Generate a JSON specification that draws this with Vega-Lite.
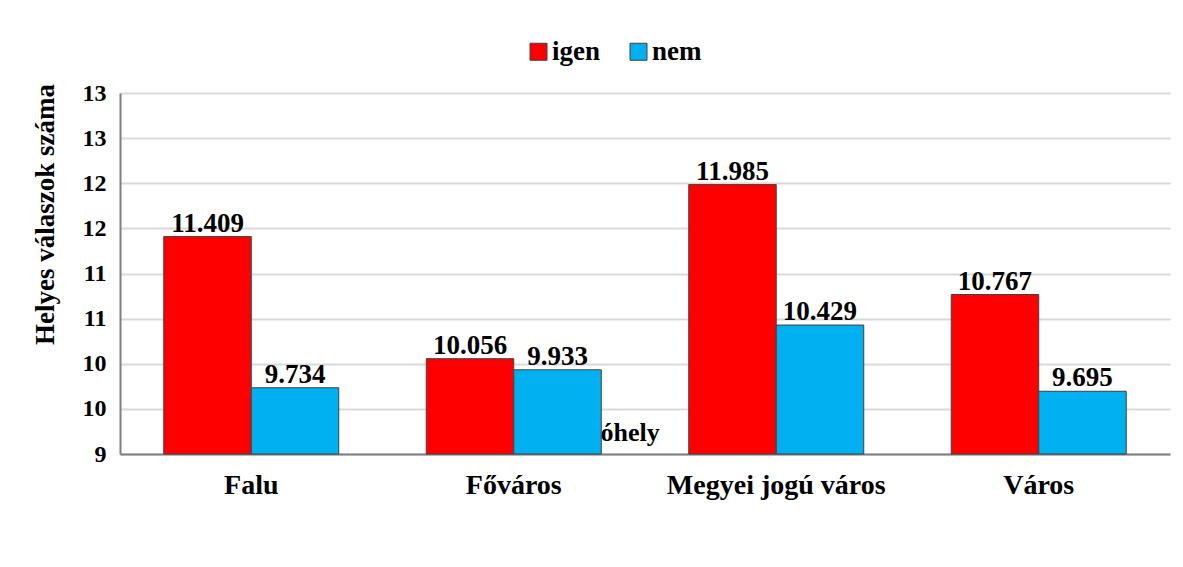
{
  "$schema": "https://vega.github.io/schema/vega-lite/v6.json",
  "width": 1050,
  "height": 361,
  "autosize": {"type": "none"},
  "padding": {"left": 120, "top": 93, "right": 13, "bottom": 113},
  "background": "white",
  "config": {
    "font": "'Liberation Serif', 'Times New Roman', serif",
    "view": {"stroke": null},
    "axis": {"labelFont": "'Liberation Serif', 'Times New Roman', serif", "titleFont": "'Liberation Serif', 'Times New Roman', serif", "labelColor": "#000", "titleColor": "#000"},
    "legend": {"labelFont": "'Liberation Serif', 'Times New Roman', serif"},
    "text": {"font": "'Liberation Serif', 'Times New Roman', serif"}
  },
  "data": {
    "values": [
      {"telepules": "Falu", "valasz": "igen", "ertek": 11.409},
      {"telepules": "Falu", "valasz": "nem", "ertek": 9.734},
      {"telepules": "Főváros", "valasz": "igen", "ertek": 10.056},
      {"telepules": "Főváros", "valasz": "nem", "ertek": 9.933},
      {"telepules": "Megyei jogú város", "valasz": "igen", "ertek": 11.985},
      {"telepules": "Megyei jogú város", "valasz": "nem", "ertek": 10.429},
      {"telepules": "Város", "valasz": "igen", "ertek": 10.767},
      {"telepules": "Város", "valasz": "nem", "ertek": 9.695}
    ]
  },
  "encoding": {
    "x": {
      "field": "telepules",
      "type": "nominal",
      "sort": ["Falu", "Főváros", "Megyei jogú város", "Város"],
      "scale": {"paddingInner": 0.3333, "paddingOuter": 0.1667},
      "axis": {
        "title": null,
        "labelAngle": 0,
        "labelFontSize": 28,
        "labelFontWeight": "bold",
        "labelPadding": 17,
        "labelLimit": 0,
        "ticks": false,
        "domainColor": "#7f7f7f",
        "domainWidth": 2,
        "grid": false
      }
    }
  },
  "layer": [
    {
      "data": {"values": [{"telepules": "Főváros", "felirat": "Lakóhely", "y": 9}]},
      "mark": {"type": "text", "align": "right", "baseline": "alphabetic", "dx": 146, "dy": -13, "fontSize": 26, "fontWeight": "bold", "color": "#000"},
      "encoding": {
        "x": {"field": "telepules", "type": "nominal"},
        "y": {"field": "y", "type": "quantitative"},
        "text": {"field": "felirat"}
      }
    },
    {
      "mark": {"type": "bar", "stroke": "#404040", "strokeWidth": 1},
      "encoding": {
        "xOffset": {"field": "valasz", "type": "nominal", "sort": ["igen", "nem"]},
        "y": {
          "field": "ertek",
          "type": "quantitative",
          "scale": {"domain": [9, 13], "zero": false, "nice": false},
          "axis": {
            "title": "Helyes válaszok száma",
            "titleFontSize": 27,
            "titleFontWeight": "bold",
            "titleAngle": 270,
            "titleAlign": "center",
            "titleBaseline": "alphabetic",
            "titleX": -67,
            "titleY": 121,
            "values": [9, 9.5, 10, 10.5, 11, 11.5, 12, 12.5, 13],
            "format": ".0f",
            "labelFontSize": 24,
            "labelFontWeight": "bold",
            "labelPadding": 14,
            "ticks": false,
            "domainColor": "#7f7f7f",
            "domainWidth": 2,
            "gridColor": "#d9d9d9",
            "gridWidth": 2
          }
        },
        "y2": {"datum": 9},
        "color": {
          "field": "valasz",
          "type": "nominal",
          "scale": {"domain": ["igen", "nem"], "range": ["#ff0000", "#00b0f0"]},
          "legend": {
            "title": null,
            "orient": "none",
            "direction": "horizontal",
            "legendX": 405,
            "legendY": -55,
            "symbolType": "square",
            "symbolSize": 289,
            "symbolStrokeColor": "#404040",
            "symbolStrokeWidth": 1,
            "symbolOpacity": 1,
            "labelFontSize": 27,
            "labelFontWeight": "bold",
            "labelColor": "#000",
            "labelOffset": 0,
            "columnPadding": 24
          }
        }
      }
    },
    {
      "mark": {"type": "text", "baseline": "alphabetic", "dy": -5, "fontSize": 27, "fontWeight": "bold", "color": "#000"},
      "encoding": {
        "xOffset": {"field": "valasz", "type": "nominal", "sort": ["igen", "nem"]},
        "y": {"field": "ertek", "type": "quantitative"},
        "text": {"field": "ertek", "type": "quantitative", "format": ".3f"}
      }
    }
  ]
}
